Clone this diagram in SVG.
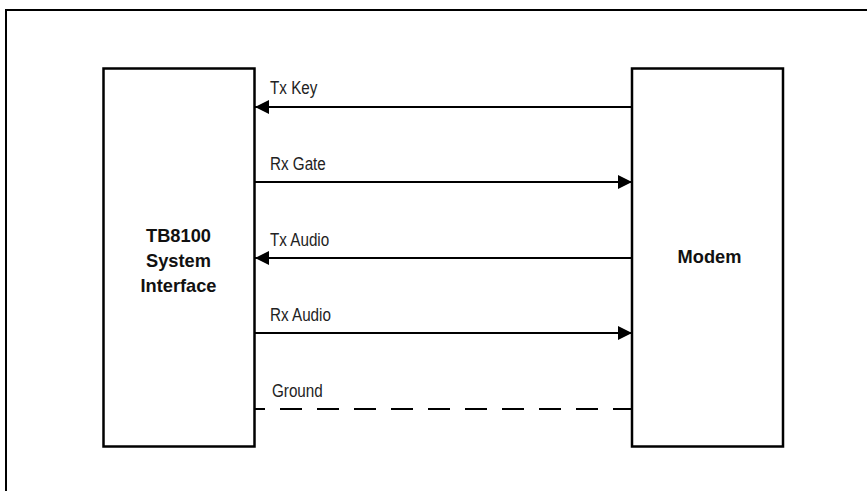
<svg xmlns="http://www.w3.org/2000/svg" width="867" height="491" viewBox="0 0 867 491">
<style>
.box{fill:#fff;stroke:#000;stroke-width:2.5}
.ln{stroke:#000;stroke-width:1.8;fill:none}
.lbl{font-family:"Liberation Sans",Arial,sans-serif;font-size:17.5px;fill:#222}
.bold{font-family:"Liberation Sans",Arial,sans-serif;font-size:19px;font-weight:bold;fill:#111;text-anchor:middle}
</style>
<defs>
<marker id="ah" viewBox="0 0 14 14" refX="14" refY="7" markerWidth="14" markerHeight="14" markerUnits="userSpaceOnUse" orient="auto">
<path d="M0,0 L14,7 L0,14 Z" fill="#000"/>
</marker>
</defs>
<path d="M6,491 V10 H867" fill="none" stroke="#000" stroke-width="2"/>
<g id="tb8100">
<rect class="box" x="103.5" y="68.5" width="151" height="378"/>
<text class="bold" transform="translate(178.5,242) scale(0.96,1)">TB8100</text>
<text class="bold" transform="translate(178.5,267) scale(0.96,1)">System</text>
<text class="bold" transform="translate(178.5,292) scale(0.96,1)">Interface</text>
</g>
<g id="modem">
<rect class="box" x="632" y="68.5" width="151" height="378"/>
<text class="bold" transform="translate(709.5,263) scale(0.96,1)">Modem</text>
</g>
<g id="connectors">
<line class="ln" x1="632" y1="107" x2="255" y2="107" marker-end="url(#ah)"/>
<line class="ln" x1="255" y1="182" x2="632" y2="182" marker-end="url(#ah)"/>
<line class="ln" x1="632" y1="258" x2="255" y2="258" marker-end="url(#ah)"/>
<line class="ln" x1="255" y1="333" x2="632" y2="333" marker-end="url(#ah)"/>
<line class="ln" x1="255" y1="409" x2="632" y2="409" stroke-dasharray="22,15" stroke-dashoffset="12"/>
<text class="lbl" transform="translate(270,94) scale(0.87,1)">Tx Key</text>
<text class="lbl" transform="translate(270,170) scale(0.87,1)">Rx Gate</text>
<text class="lbl" transform="translate(270,246) scale(0.87,1)">Tx Audio</text>
<text class="lbl" transform="translate(270,321) scale(0.87,1)">Rx Audio</text>
<text class="lbl" transform="translate(272,397) scale(0.87,1)">Ground</text>
</g>
</svg>
